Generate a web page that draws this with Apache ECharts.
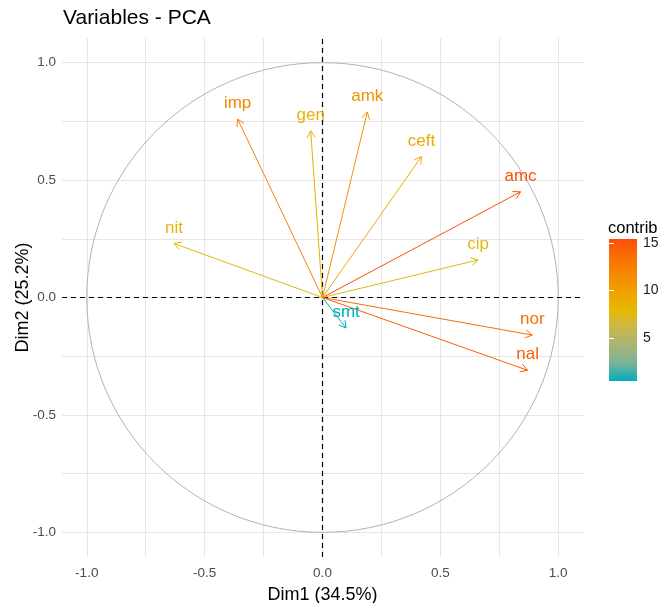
<!DOCTYPE html>
<html>
<head>
<meta charset="utf-8">
<script src="https://cdn.jsdelivr.net/npm/echarts@6/dist/echarts.min.js"></script>
<style>
html,body{margin:0;padding:0;background:#fff;}
#chart{width:662px;height:603px;}
</style>
</head>
<body>
<div id="chart"></div>
<script>
// ---- data ----
const varNames = ['imp', 'gen', 'amk', 'ceft', 'amc', 'cip', 'nor', 'nal', 'smt', 'nit'];
const dim1 = [-0.36, -0.05, 0.19, 0.42, 0.84, 0.66, 0.89, 0.87, 0.10, -0.63];
const dim2 = [0.76, 0.71, 0.79, 0.60, 0.45, 0.16, -0.16, -0.31, -0.13, 0.23];
const contrib = [11.9, 8.6, 11.0, 9.0, 15.4, 7.6, 13.6, 14.5, 0.5, 7.6];
const majorTicks = [-1, -0.5, 0, 0.5, 1];
const minorTicks = [-0.75, -0.25, 0.25, 0.75];
const legendTicks = [5, 10, 15];
const axisMin = -1.105, axisMax = 1.105;
// gradient #00AFBB -> #E7B800 -> #FC4E07 (Lab-interpolated stops, evenly spaced)
const gradientCols = ['#00AFBB', '#7BB298', '#A8B474', '#CBB64C', '#E7B800', '#EEA200', '#F48A01', '#F86F04', '#FC4E07'];
const contribMin = Math.min(...contrib), contribMax = Math.max(...contrib);

const FONT = '"Liberation Sans", Arial, sans-serif';
const chart = echarts.init(document.getElementById('chart'), null, {renderer: 'canvas'});

const arrowData = varNames.map((n, i) => [dim1[i], dim2[i], contrib[i], n]);

function renderArrow(params, api) {
  const x = api.value(0), y = api.value(1);
  const name = varNames[params.dataIndex];
  const o = api.coord([0, 0]);
  const p = api.coord([x, y]);
  const color = api.visual('color');
  const ang = Math.atan2(p[1] - o[1], p[0] - o[0]);
  const L = 8, a = Math.PI / 6;
  const h1 = [p[0] - L * Math.cos(ang - a), p[1] - L * Math.sin(ang - a)];
  const h2 = [p[0] - L * Math.cos(ang + a), p[1] - L * Math.sin(ang + a)];
  return {
    type: 'group',
    children: [
      {type: 'line', shape: {x1: o[0], y1: o[1], x2: p[0], y2: p[1]}, style: {stroke: color, lineWidth: 1}},
      {type: 'polyline', shape: {points: [h1, p, h2]}, style: {stroke: color, fill: null, lineWidth: 1}},
      {type: 'text', x: p[0], y: p[1] - 15.5, z2: 10,
        style: {text: name, fill: color, font: '17px ' + FONT, align: 'center', verticalAlign: 'middle'}}
    ]
  };
}

function renderCircle(params, api) {
  const c = api.coord([api.value(0), api.value(1)]);
  const s = api.size([api.value(2), api.value(2)]);
  return {type: 'ellipse', shape: {cx: c[0], cy: c[1], rx: s[0], ry: s[1]},
    style: {stroke: '#b3b3b3', fill: null, lineWidth: 1}};
}

function renderBar(params, api) {
  const p0 = api.coord([api.value(0), api.value(3)]);
  const p1 = api.coord([api.value(2), api.value(1)]);
  const n = gradientCols.length;
  return {type: 'rect', shape: {x: p0[0], y: p0[1], width: p1[0] - p0[0], height: p1[1] - p0[1]},
    style: {fill: new echarts.graphic.LinearGradient(0, 1, 0, 0,
      gradientCols.map((c, i) => ({offset: i / (n - 1), color: c})))}};
}

const gridLineData = [];
majorTicks.concat(minorTicks).forEach(v => {
  gridLineData.push({xAxis: v});
  gridLineData.push({yAxis: v});
});

const option = {
  animation: false,
  backgroundColor: '#ffffff',
  title: [
    {text: 'Variables - PCA', left: 63, top: 8, padding: 0,
      textStyle: {fontFamily: FONT, fontSize: 21, fontWeight: 'normal', color: '#000'}},
    {text: 'contrib', left: 608, top: 220, padding: 0,
      textStyle: {fontFamily: FONT, fontSize: 16.5, fontWeight: 'normal', color: '#000'}}
  ],
  grid: [
    {left: 62, right: 79, top: 38, bottom: 46, containLabel: false, outerBoundsMode: 'none'},
    {left: 609, width: 28, top: 239, height: 142, containLabel: false, outerBoundsMode: 'none'}
  ],
  xAxis: [
    {type: 'value', gridIndex: 0, min: axisMin, max: axisMax,
      name: 'Dim1 (34.5%)', nameLocation: 'middle', nameGap: 29,
      nameTextStyle: {fontFamily: FONT, fontSize: 18, color: '#000'},
      axisLine: {show: false},
      axisTick: {show: true, customValues: majorTicks, length: 3, lineStyle: {color: '#333', width: 1}},
      axisLabel: {customValues: majorTicks, margin: 9, color: '#4d4d4d', fontFamily: FONT, fontSize: 13.5,
        formatter: v => v.toFixed(1)},
      splitLine: {show: false}},
    {type: 'value', gridIndex: 1, min: 0, max: 1, show: false}
  ],
  yAxis: [
    {type: 'value', gridIndex: 0, min: axisMin, max: axisMax,
      name: 'Dim2 (25.2%)', nameLocation: 'middle', nameGap: 30, nameRotate: 90, nameMoveOverlap: false,
      nameTextStyle: {fontFamily: FONT, fontSize: 18, color: '#000'},
      axisLine: {show: false},
      axisTick: {show: true, customValues: majorTicks, length: 3, lineStyle: {color: '#333', width: 1}},
      axisLabel: {customValues: majorTicks, margin: 6, color: '#4d4d4d', fontFamily: FONT, fontSize: 13.5,
        formatter: v => v.toFixed(1)},
      splitLine: {show: false}},
    {type: 'value', gridIndex: 1, min: contribMin, max: contribMax, position: 'right', z: 10,
      axisLine: {show: false},
      axisTick: {show: true, inside: true, customValues: legendTicks, length: 5, lineStyle: {color: '#ffffff', width: 1}},
      axisLabel: {customValues: legendTicks, margin: 6, color: '#1a1a1a', fontFamily: FONT, fontSize: 14},
      splitLine: {show: false}},
    {type: 'value', gridIndex: 1, min: contribMin, max: contribMax, position: 'left', z: 10,
      axisLine: {show: false},
      axisTick: {show: true, inside: true, customValues: legendTicks, length: 5, lineStyle: {color: '#ffffff', width: 1}},
      axisLabel: {show: false},
      splitLine: {show: false}}
  ],
  visualMap: [{
    show: false, type: 'continuous', min: contribMin, max: contribMax, dimension: 2, seriesIndex: 3,
    inRange: {color: gradientCols}
  }],
  series: [
    {type: 'line', xAxisIndex: 0, yAxisIndex: 0, data: [[0, 0]], symbol: 'none', lineStyle: {opacity: 0},
      silent: true, z: 1,
      markLine: {silent: true, symbol: ['none', 'none'], z: 1, label: {show: false}, animation: false,
        lineStyle: {color: '#e6e6e6', width: 1, type: 'solid'}, data: gridLineData}},
    {type: 'custom', xAxisIndex: 0, yAxisIndex: 0, data: [[0, 0, 1]], renderItem: renderCircle, silent: true, z: 2},
    {type: 'line', xAxisIndex: 0, yAxisIndex: 0, data: [[0, 0]], symbol: 'none', lineStyle: {opacity: 0},
      silent: true, z: 3,
      markLine: {silent: true, symbol: ['none', 'none'], z: 3, label: {show: false}, animation: false,
        lineStyle: {color: '#000', width: 1.2, type: [5, 4]}, data: [{xAxis: 0}, {yAxis: 0}]}},
    {type: 'custom', xAxisIndex: 0, yAxisIndex: 0, data: arrowData, renderItem: renderArrow, silent: true, z: 4},
    {type: 'custom', xAxisIndex: 1, yAxisIndex: 1, data: [[0, contribMin, 1, contribMax]], renderItem: renderBar,
      silent: true, z: 2}
  ]
};
chart.setOption(option);
</script>
</body>
</html>
